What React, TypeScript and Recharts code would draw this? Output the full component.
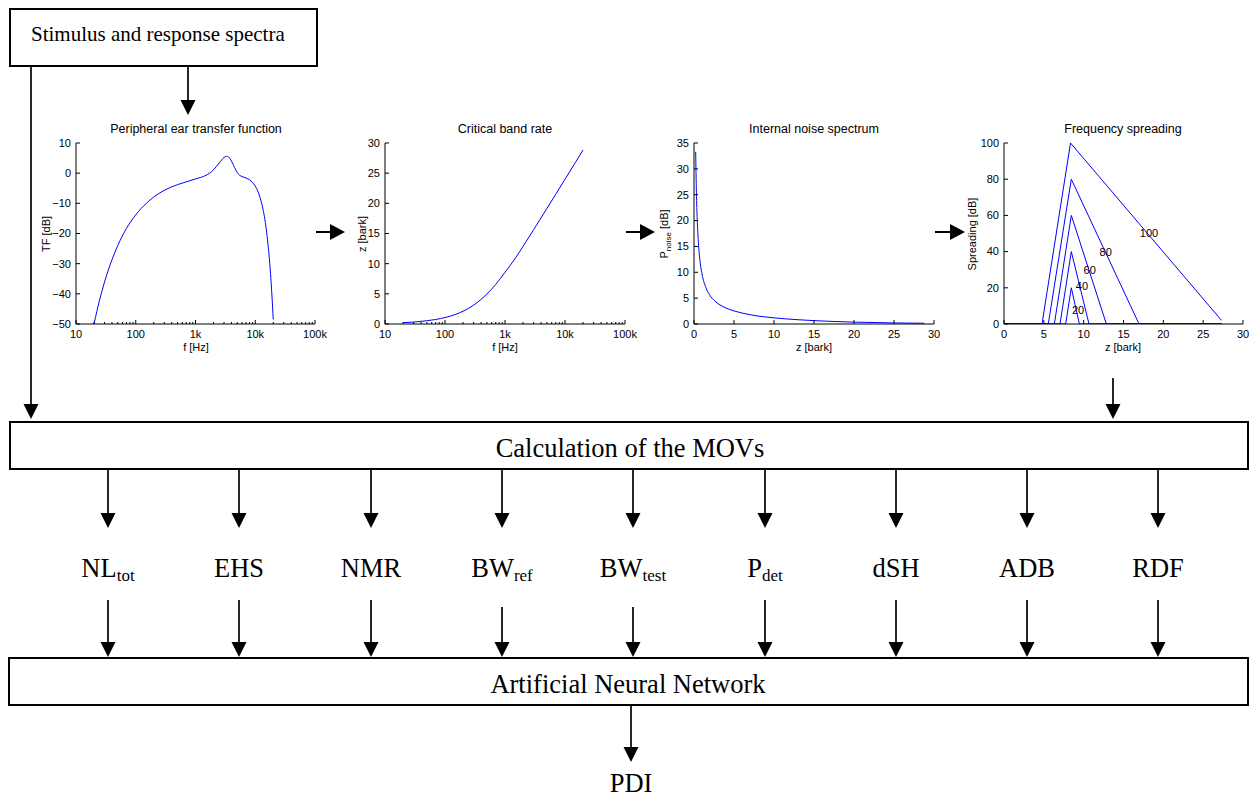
import React from 'react'
import { LineChart, Line, XAxis, YAxis, ReferenceDot } from 'recharts'

// peripheral ear transfer function (f in Hz, dB)
const tfFreq = [20, 25, 30, 40, 50, 70, 100, 150, 200, 300, 500, 700, 1000, 1500, 2000, 2500, 3000, 3300, 3600, 4000, 4500, 5000, 5500, 6000, 7000, 8000, 9000, 10000, 11000, 12000, 13000, 14000, 15000, 16000, 17000, 18000, 19000, 20000]
const tfDb = [-50.0, -41.8, -36.1, -28.7, -24.0, -18.3, -13.8, -10.0, -7.9, -5.7, -3.8, -2.9, -1.9, -0.7, 1.1, 3.4, 5.2, 5.6, 5.3, 4.0, 1.9, 0.2, -0.7, -1.1, -1.6, -2.2, -3.1, -4.3, -5.9, -8.0, -10.5, -13.6, -17.4, -21.9, -27.1, -33.2, -40.4, -48.5]

// critical band rate (f in Hz, z in bark)
const barkFreq = [20, 30, 50, 70, 100, 150, 200, 300, 500, 700, 1000, 1500, 2000, 3000, 5000, 7000, 10000, 15000, 20000]
const barkZ = [0.22, 0.32, 0.54, 0.75, 1.07, 1.6, 2.12, 3.13, 4.98, 6.56, 8.56, 10.96, 12.87, 15.63, 19.16, 21.5, 23.99, 26.82, 28.84]

// internal noise spectrum (z in bark, dB)
const noiseZ = [0.21, 0.3, 0.4, 0.5, 0.7, 1, 1.5, 2, 2.5, 3, 4, 5, 7, 10, 13, 15, 20, 25, 28.8]
const noiseDb = [33.3, 25.5, 20.3, 17.0, 12.9, 9.7, 7.0, 5.5, 4.6, 3.95, 3.09, 2.53, 1.8, 1.19, 0.83, 0.65, 0.36, 0.21, 0.14]

// frequency spreading, one triangle per level
const spread20Z = [0, 7.74, 8.45, 9.46, 27.3]
const spread20Db = [0, 0, 20, 0, 0]
const spread40Z = [0, 7.03, 8.45, 10.67, 27.3]
const spread40Db = [0, 0, 40, 0, 0]
const spread60Z = [0, 6.32, 8.45, 12.85, 27.3]
const spread60Db = [0, 0, 60, 0, 0]
const spread80Z = [0, 5.56, 8.45, 16.95, 27.3]
const spread80Db = [0, 0, 80, 0, 0]
const spread100Z = [0, 4.77, 8.35, 27.3]
const spread100Db = [0, 0, 100, 2]

const spreadLabelText = ['20', '40', '60', '80', '100']
const spreadLabelZ = [9.29, 9.79, 10.75, 12.76, 18.2]
const spreadLabelDb = [7.9, 20.7, 29.9, 39.8, 50]

// tick values
const logDecades = [10, 100, 1000, 10000]
const logTicks = [...logDecades.flatMap((d) => [1, 2, 3, 4, 5, 6, 7, 8, 9].map((m) => d * m)), 100000]
const logLabels: Record<number, string> = { 10: '10', 100: '100', 1000: '1k', 10000: '10k', 100000: '100k' }
const barkTicks = [0, 5, 10, 15, 20, 25, 30]
const tfTicks = [-50, -40, -30, -20, -10, 0, 10]
const zTicks = [0, 5, 10, 15, 20, 25, 30]
const noiseTicks = [0, 5, 10, 15, 20, 25, 30, 35]
const spreadTicks = [0, 20, 40, 60, 80, 100]

// MOV names
const movNames = ['NL', 'EHS', 'NMR', 'BW', 'BW', 'P', 'dSH', 'ADB', 'RDF']
const movSubs = ['tot', '', '', 'ref', 'test', 'det', '', '', '']

const toRows = (xs: number[], ys: number[], xk: string, yk: string) =>
  xs.map((x, i) => ({ [xk]: x, [yk]: ys[i] }))

const SANS = '"Liberation Sans", Arial, Helvetica, sans-serif'
const SERIF = '"Liberation Serif", "Times New Roman", serif'
const BLUE = '#0000ff'

const PLOT_TOP = 143
const PLOT_H = 181
const ML = 40
const MR = 16
const MT = 8
const MB = 26

type Side = 'bottom' | 'top' | 'left' | 'right'

function makeTick(side: Side, fmt?: (v: number) => string, isMajor?: (v: number) => boolean) {
  return (props: any) => {
    const { x, y, payload } = props
    const v = payload.value
    const major = isMajor ? isMajor(v) : true
    const len = major ? 4 : 2
    let line
    if (side === 'bottom') line = <line x1={x} y1={y} x2={x} y2={y - len} stroke="#000" />
    else if (side === 'top') line = <line x1={x} y1={y} x2={x} y2={y + len} stroke="#000" />
    else if (side === 'left') line = <line x1={x} y1={y} x2={x + len} y2={y} stroke="#000" />
    else line = <line x1={x} y1={y} x2={x - len} y2={y} stroke="#000" />
    const label = fmt && major ? fmt(v) : null
    return (
      <g>
        {line}
        {label != null && side === 'bottom' && (
          <text x={x} y={y + 14} textAnchor="middle" fontFamily={SANS} fontSize={11} fill="#000">{label}</text>
        )}
        {label != null && side === 'left' && (
          <text x={x - 5} y={y} dy="0.35em" textAnchor="end" fontFamily={SANS} fontSize={11} fill="#000">{label}</text>
        )}
      </g>
    )
  }
}

const numFmt = (v: number) => (v < 0 ? '\u2212' + Math.abs(v) : String(v))
const logFmt = (v: number) => logLabels[v]
const logMajor = (v: number) => logLabels[v] !== undefined

interface PanelProps {
  plotX: number
  plotW: number
  xKey: string
  log?: boolean
  xDomain: [number, number]
  xTicks: number[]
  yDomain: [number, number]
  yTicks: number[]
  data?: any[]
  children: React.ReactNode
}

function Panel({ plotX, plotW, xKey, log, xDomain, xTicks, yDomain, yTicks, data, children }: PanelProps) {
  const xFmt = log ? logFmt : numFmt
  const xMajor = log ? logMajor : undefined
  return (
    <div style={{ position: 'absolute', left: plotX - ML, top: PLOT_TOP - MT }}>
      <LineChart width={plotW + ML + MR} height={PLOT_H + MT + MB} data={data} margin={{ top: MT, right: MR, bottom: 0, left: 0 }}>
        <XAxis xAxisId="x" dataKey={xKey} type="number" scale={log ? 'log' : 'linear'} domain={xDomain}
          ticks={xTicks} interval={0} allowDataOverflow height={MB} tickSize={0} tickMargin={0}
          tickLine={false} axisLine={{ stroke: '#000' }} tick={makeTick('bottom', xFmt, xMajor)} />
        <XAxis xAxisId="xt" orientation="top" dataKey={xKey} type="number" scale={log ? 'log' : 'linear'} domain={xDomain}
          ticks={xTicks} interval={0} allowDataOverflow height={0} tickSize={0} tickMargin={0}
          tickLine={false} axisLine={{ stroke: '#000' }} tick={makeTick('top', undefined, xMajor)} />
        <YAxis yAxisId="y" type="number" domain={yDomain} ticks={yTicks} interval={0} allowDataOverflow
          width={ML} tickSize={0} tickMargin={0} tickLine={false} axisLine={{ stroke: '#000' }}
          tick={makeTick('left', numFmt)} />
        <YAxis yAxisId="yr" orientation="right" type="number" domain={yDomain} ticks={yTicks} interval={0} allowDataOverflow
          width={0} tickSize={0} tickMargin={0} tickLine={false} axisLine={{ stroke: '#000' }}
          tick={makeTick('right')} />
        {children}
      </LineChart>
    </div>
  )
}

function ArrowDown({ x, y1, y2 }: { x: number; y1: number; y2: number }) {
  return (
    <g>
      <line x1={x} y1={y1} x2={x} y2={y2 - 12} stroke="#000" strokeWidth={1.7} />
      <polygon points={`${x - 7.5},${y2 - 15} ${x + 7.5},${y2 - 15} ${x},${y2}`} fill="#000" />
    </g>
  )
}

function ArrowRight({ x1, x2, y }: { x1: number; x2: number; y: number }) {
  return (
    <g>
      <line x1={x1} y1={y} x2={x2 - 12} y2={y} stroke="#000" strokeWidth={2} />
      <polygon points={`${x2 - 15},${y - 8} ${x2 - 15},${y + 8} ${x2},${y}`} fill="#000" />
    </g>
  )
}

const movX = [108, 239, 371, 502, 633, 765, 896, 1027, 1158]
const movInTop = [600, 600, 600, 607, 607, 600, 600, 600, 600]

const panels = [
  { cx: 196, title: 'Peripheral ear transfer function', xl: 'f [Hz]', ylx: 46, yl: 'TF [dB]' },
  { cx: 505, title: 'Critical band rate', xl: 'f [Hz]', ylx: 362, yl: 'z [bark]' },
  { cx: 814, title: 'Internal noise spectrum', xl: 'z [bark]', ylx: 664, yl: '' },
  { cx: 1123, title: 'Frequency spreading', xl: 'z [bark]', ylx: 972, yl: 'Spreading [dB]' },
]

export default function App() {
  const spreadSets = [
    toRows(spread20Z, spread20Db, 'z', 'db'),
    toRows(spread40Z, spread40Db, 'z', 'db'),
    toRows(spread60Z, spread60Db, 'z', 'db'),
    toRows(spread80Z, spread80Db, 'z', 'db'),
    toRows(spread100Z, spread100Db, 'z', 'db'),
  ]
  return (
    <div style={{ position: 'absolute', left: 0, top: 0, width: 1252, height: 799, background: '#fff', overflow: 'hidden' }}>
      <Panel plotX={76} plotW={239} xKey="f" log xDomain={[10, 100000]} xTicks={logTicks} yDomain={[-50, 10]} yTicks={tfTicks}
        data={toRows(tfFreq, tfDb, 'f', 'db')}>
        <Line xAxisId="x" yAxisId="y" type="monotone" dataKey="db" stroke={BLUE} strokeWidth={1} dot={false} isAnimationActive={false} />
      </Panel>
      <Panel plotX={385} plotW={240} xKey="f" log xDomain={[10, 100000]} xTicks={logTicks} yDomain={[0, 30]} yTicks={barkTicks}
        data={toRows(barkFreq, barkZ, 'f', 'z')}>
        <Line xAxisId="x" yAxisId="y" type="monotone" dataKey="z" stroke={BLUE} strokeWidth={1} dot={false} isAnimationActive={false} />
      </Panel>
      <Panel plotX={694} plotW={240} xKey="z" xDomain={[0, 30]} xTicks={zTicks} yDomain={[0, 35]} yTicks={noiseTicks}
        data={toRows(noiseZ, noiseDb, 'z', 'db')}>
        <Line xAxisId="x" yAxisId="y" type="monotone" dataKey="db" stroke={BLUE} strokeWidth={1} dot={false} isAnimationActive={false} />
      </Panel>
      <Panel plotX={1004} plotW={239} xKey="z" xDomain={[0, 30]} xTicks={zTicks} yDomain={[0, 100]} yTicks={spreadTicks}>
        {spreadSets.map((rows, i) => (
          <Line key={'s' + i} xAxisId="x" yAxisId="y" data={rows} type="linear" dataKey="db" stroke={BLUE} strokeWidth={1}
            dot={false} isAnimationActive={false} />
        ))}
        {spreadLabelText.map((t, i) => (
          <ReferenceDot key={'l' + i} xAxisId="x" yAxisId="y" x={spreadLabelZ[i]} y={spreadLabelDb[i]} r={0} stroke="none" fill="none"
            label={{ value: t, position: 'center', fontSize: 11, fontFamily: SANS, fill: '#000' }} />
        ))}
      </Panel>

      <svg width={1252} height={799} style={{ position: 'absolute', left: 0, top: 0, pointerEvents: 'none' }}>
        {/* top box */}
        <rect x={10} y={9} width={307} height={57} fill="none" stroke="#000" strokeWidth={2} />
        <text x={31} y={41} fontFamily={SERIF} fontSize={21} fill="#000">Stimulus and response spectra</text>
        <ArrowDown x={188} y1={66} y2={115} />
        <ArrowDown x={31} y1={66} y2={419} />

        {panels.map((p, i) => (
          <g key={p.title} fontFamily={SANS} fill="#000">
            <text x={p.cx} y={133} textAnchor="middle" fontSize={12.5}>{p.title}</text>
            <text x={p.cx} y={351} textAnchor="middle" fontSize={11}>{p.xl}</text>
            {i === 2 ? (
              <text transform={`translate(${p.ylx},234) rotate(-90)`} textAnchor="middle" dy="0.35em" fontSize={11}>
                P<tspan fontSize={8} dy={3}>noise</tspan><tspan dy={-3}> [dB]</tspan>
              </text>
            ) : (
              <text transform={`translate(${p.ylx},234) rotate(-90)`} textAnchor="middle" dy="0.35em" fontSize={11}>{p.yl}</text>
            )}
          </g>
        ))}
        <ArrowRight x1={316} x2={345} y={232} />
        <ArrowRight x1={626} x2={655} y={232} />
        <ArrowRight x1={935} x2={965} y={232} />
        <ArrowDown x={1113} y1={378} y2={419} />

        {/* MOV calculation */}
        <rect x={10} y={422} width={1238} height={47} fill="none" stroke="#000" strokeWidth={2} />
        <text x={630} y={457} textAnchor="middle" fontFamily={SERIF} fontSize={26.5} fill="#000">Calculation of the MOVs</text>
        {movNames.map((n, i) => (
          <g key={'m' + i}>
            <ArrowDown x={movX[i]} y1={469} y2={528} />
            <text x={movX[i]} y={577} textAnchor="middle" fontFamily={SERIF} fontSize={26.5} fill="#000">
              {n}
              {movSubs[i] && <tspan fontSize={17} dy={4}>{movSubs[i]}</tspan>}
            </text>
            <ArrowDown x={movX[i]} y1={movInTop[i]} y2={657} />
          </g>
        ))}

        {/* neural network */}
        <rect x={9} y={658} width={1239} height={47} fill="none" stroke="#000" strokeWidth={2} />
        <text x={628} y={693} textAnchor="middle" fontFamily={SERIF} fontSize={26.5} fill="#000">Artificial Neural Network</text>
        <ArrowDown x={631} y1={705} y2={762} />
        <text x={631} y={792} textAnchor="middle" fontFamily={SERIF} fontSize={26.5} fill="#000">PDI</text>
      </svg>
    </div>
  )
}
